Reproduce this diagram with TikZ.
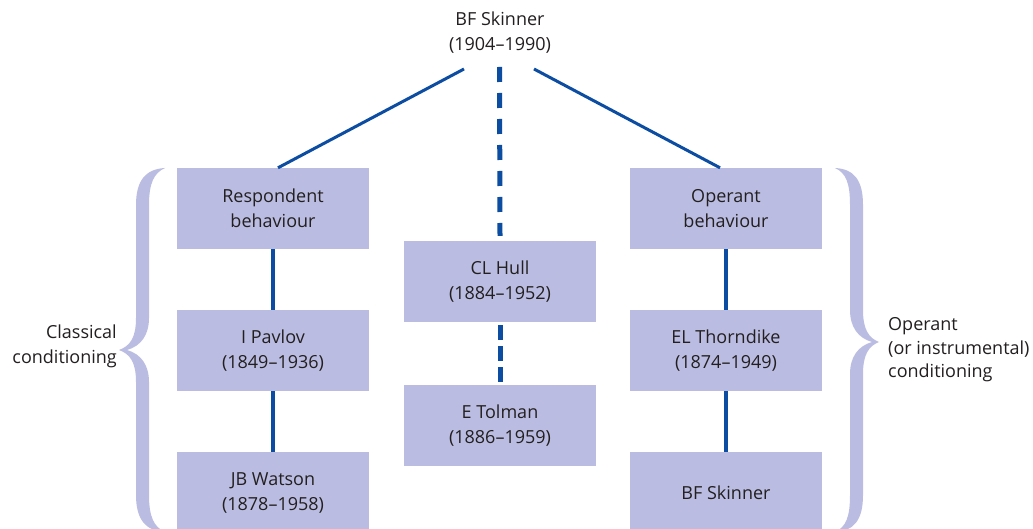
\documentclass[tikz,border=0pt]{standalone}
\usepackage{fontspec}
\setmainfont{Open Sans}
\definecolor{boxfill}{HTML}{BABDE1}
\definecolor{linkblue}{HTML}{0C4DA2}
\definecolor{txt}{HTML}{231F20}
\tikzset{
  pbox/.style={fill=boxfill, minimum width=192pt, minimum height=81pt, inner sep=0pt,
    align=center, text=txt, font=\fontsize{18}{25}\selectfont},
  lbl/.style={text=txt, inner sep=0pt, font=\fontsize{18}{25}\selectfont},
  link/.style={draw=linkblue, line width=4.5pt},
  diag/.style={draw=linkblue, line width=3pt},
  dashlink/.style={draw=linkblue, line width=5pt, dash pattern=on 15pt off 11pt},
  dashlinkb/.style={draw=linkblue, line width=5pt, dash pattern=on 15pt off 6pt},
  bracefill/.style={fill=boxfill, draw=none}
}
\begin{document}
\begin{tikzpicture}[x=1pt,y=-1pt]
\useasboundingbox (0,0) rectangle (1033,529);
\clip (0,0) rectangle (1033,529);
\fill[white] (0,0) rectangle (1033,529);

% top label
\node[lbl, align=center] (top) at (500,33) {BF Skinner\\(1904–1990)};
\coordinate (tl) at (464,69);
\coordinate (tm) at (499.5,67);
\coordinate (tr) at (534,69);

% boxes
\node[pbox] (resp)   at (273,208.5) {Respondent\\behaviour};
\node[pbox] (pavlov) at (273,350.5) {I Pavlov\\(1849–1936)};
\node[pbox] (watson) at (273,492.5) {JB Watson\\(1878–1958)};
\node[pbox] (hull)   at (500,281.5) {CL Hull\\(1884–1952)};
\node[pbox] (tolman) at (500,425.5) {E Tolman\\(1886–1959)};
\node[pbox] (oper)   at (726,208.5) {Operant\\behaviour};
\node[pbox] (thorn)  at (726,350.5) {EL Thorndike\\(1874–1949)};
\node[pbox] (skin)   at (726,492.5) {BF Skinner};

% connectors
\draw[diag] (tl) -- ([xshift=5pt]resp.north);
\draw[diag] (tr) -- ([xshift=-6pt]oper.north);
\draw[dashlink] (tm) -- ([yshift=5pt]hull.north);
\draw[dashlinkb] ([yshift=-3pt]hull.south) -- ([yshift=3pt]tolman.north);
\draw[link] (resp) -- (pavlov);
\draw[link] (pavlov) -- (watson);
\draw[link] (oper) -- (thorn);
\draw[link] (thorn) -- (skin);

% left brace
\path[bracefill] (165,168) .. controls (146,169) and (136,180) .. (136,205)
  -- (136,318) .. controls (136,338) and (130,346) .. (119,350)
  .. controls (130,354) and (136,362) .. (136,382)
  -- (136,495) .. controls (136,520) and (146,531) .. (165,532)
  .. controls (154,527) and (149,517) .. (149,495)
  -- (149,382) .. controls (149,365) and (141,354) .. (127,350)
  .. controls (141,346) and (149,335) .. (149,318)
  -- (149,205) .. controls (149,183) and (154,173) .. (165,168) -- cycle;

% right brace
\path[bracefill] (835,168) .. controls (854,169) and (863,180) .. (863,205)
  -- (863,310) .. controls (863,330) and (869,338) .. (879,342)
  .. controls (869,346) and (863,354) .. (863,374)
  -- (863,495) .. controls (863,520) and (854,531) .. (835,532)
  .. controls (846,527) and (850,517) .. (850,495)
  -- (850,374) .. controls (850,357) and (858,346) .. (872,342)
  .. controls (858,338) and (850,327) .. (850,310)
  -- (850,205) .. controls (850,183) and (846,173) .. (835,168) -- cycle;

% side labels
\node[lbl, align=right, anchor=east] (classical) at (117,346) {Classical\\conditioning};
\node[lbl, align=left, anchor=west, font=\fontsize{18}{23.5}\selectfont] (operlbl) at (888,350) {Operant\\(or instrumental)\\conditioning};
\end{tikzpicture}
\end{document}
